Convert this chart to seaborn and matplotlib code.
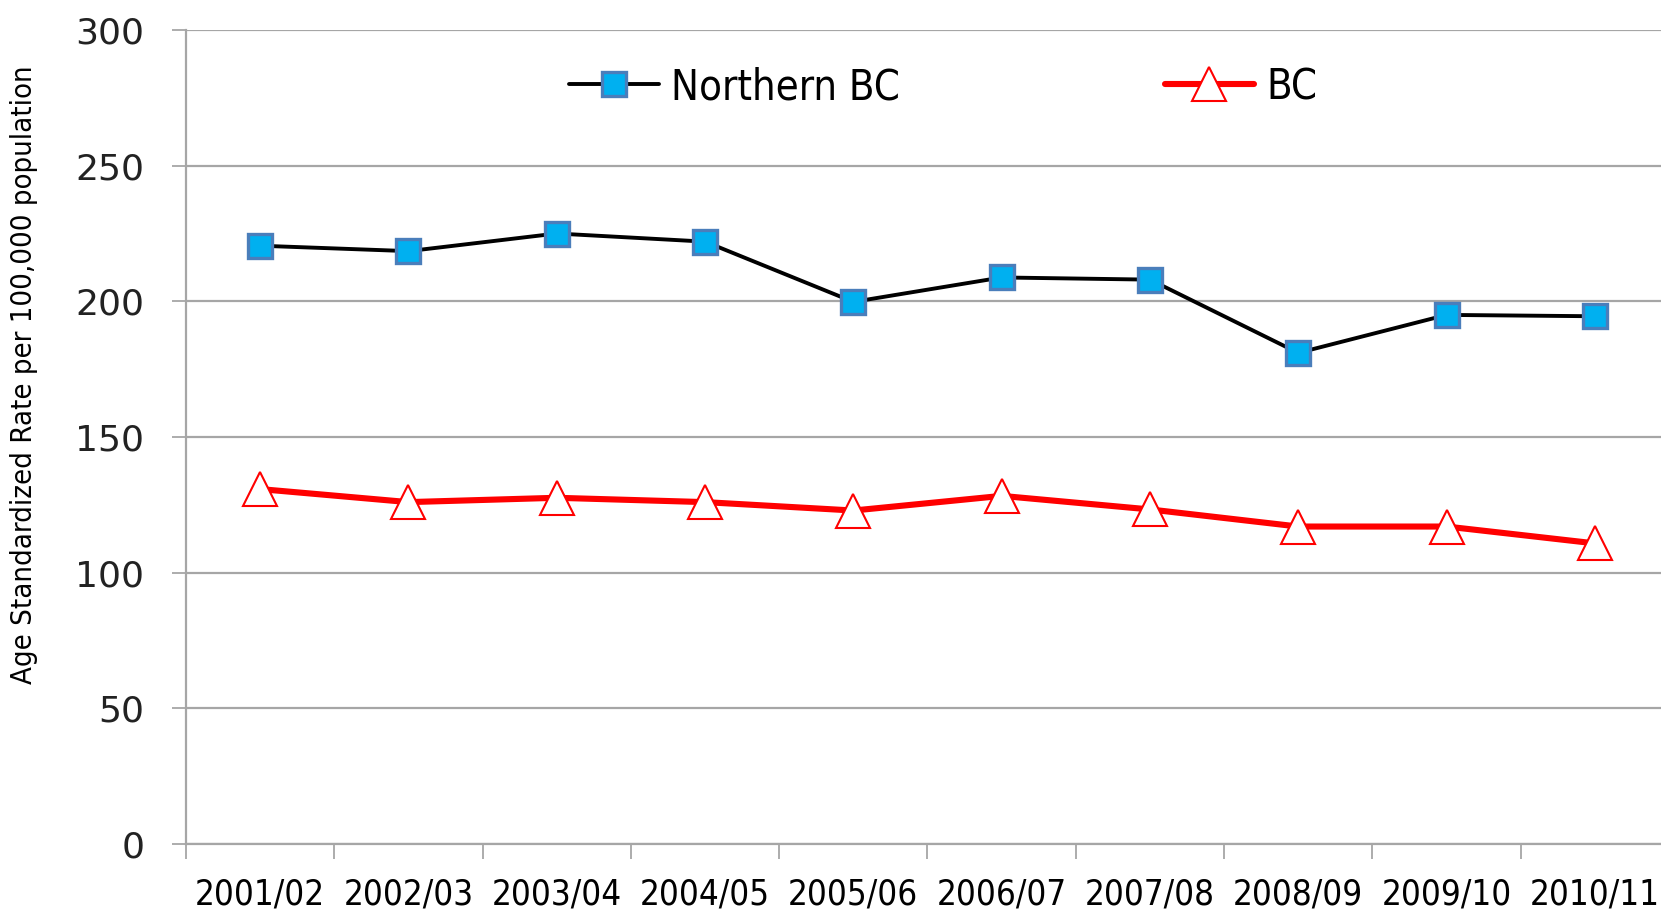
import numpy as np
import pandas as pd
from matplotlib import pyplot as plt
import seaborn as sns

# values
years = ['2001/02', '2002/03', '2003/04', '2004/05', '2005/06',
         '2006/07', '2007/08', '2008/09', '2009/10', '2010/11']
northern_bc = [220.5, 218.5, 225.0, 222.0, 199.8, 208.8, 208.0, 181.0, 195.0, 194.5]
bc = [130.8, 126.0, 127.6, 126.0, 122.9, 128.3, 123.3, 117.0, 117.0, 110.8]

df = pd.DataFrame({'year': years, 'Northern BC': northern_bc, 'BC': bc})

sns.set_style('white')
plt.rcParams['font.family'] = ['DejaVu Sans']
plt.rcParams['text.color'] = 'black'

fig = plt.figure(figsize=(16.61, 9.09), dpi=100)
ax = fig.add_axes([186 / 1661, 65 / 909, 1483 / 1661, 814 / 909])

grid_c = '#a6a6a6'
ax.set_ylim(0, 300)
ax.set_yticks(range(0, 301, 50))
ax.yaxis.grid(True, color=grid_c, lw=1.6)
ax.set_axisbelow(True)

sns.lineplot(data=df, x='year', y='Northern BC', ax=ax, sort=False,
             color='black', lw=2.8, marker='s', markersize=17,
             markerfacecolor='#00b0f0', markeredgecolor='#4a7ebb',
             markeredgewidth=2.4, label='Northern BC')
sns.lineplot(data=df, x='year', y='BC', ax=ax, sort=False,
             color='#ff0000', lw=4.4, marker='^', markersize=24,
             markerfacecolor='white', markeredgecolor='#ff0000',
             markeredgewidth=1.5, label='BC')

ax.set_xlim(-0.5, len(years) - 0.5)
ax.set_xticks(range(len(years)))
ax.set_xticklabels(years, fontstretch='condensed')
ax.set_xticks(np.arange(-0.5, len(years), 1.0), minor=True)
ax.tick_params(axis='x', which='major', length=0, pad=24, labelsize=25,
               labelcolor='black')
ax.tick_params(axis='x', which='minor', length=11, width=1.3,
               color=grid_c, direction='out', bottom=True)
ax.tick_params(axis='y', length=10, width=1.3, color=grid_c,
               direction='out', left=True, pad=20, labelsize=26,
               labelcolor='#222222')

for side in ['top', 'right']:
    ax.spines[side].set_visible(False)
for side in ['left', 'bottom']:
    ax.spines[side].set_color(grid_c)
    ax.spines[side].set_linewidth(1.6)

ax.set_xlabel('')
ax.set_ylabel('Age Standardized Rate per 100,000 population',
              fontsize=21, fontstretch='condensed', color='black')
ax.yaxis.set_label_coords(-0.1, 0.576)

leg = ax.legend(loc='center left', bbox_to_anchor=(569 / 1661, 1 - 87 / 909),
                bbox_transform=fig.transFigure, ncol=2, frameon=False,
                prop={'size': 30, 'stretch': 'condensed'},
                handlelength=2.15, handletextpad=0.3, columnspacing=6.35,
                borderpad=0, borderaxespad=0)

fig.savefig('out.png', dpi=100)
